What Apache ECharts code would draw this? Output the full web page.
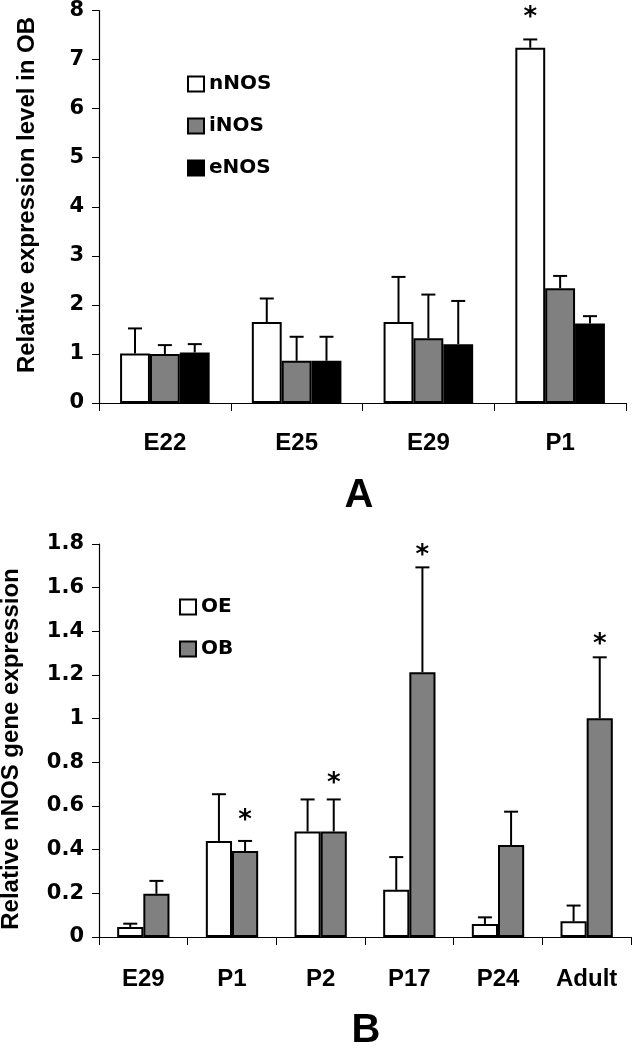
<!DOCTYPE html>
<html><head><meta charset="utf-8">
<script src="https://cdn.jsdelivr.net/npm/echarts@6/dist/echarts.min.js"></script>
<style>html,body{margin:0;padding:0;background:#fff}#c{width:632px;height:1050px}</style>
</head><body><div id="c"></div>
<script>
// ---- Panel A data ----
const categoriesA = ['E22', 'E25', 'E29', 'P1'];
const nNOS = [1.01, 1.65, 1.65, 7.24];
const nNOS_sd = [0.51, 0.48, 0.92, 0.17];
const iNOS = [1.00, 0.86, 1.32, 2.34];
const iNOS_sd = [0.18, 0.49, 0.89, 0.25];
const eNOS = [1.03, 0.86, 1.20, 1.62];
const eNOS_sd = [0.17, 0.49, 0.88, 0.15];
const starsA = [[3, 0, 7.95]]; // [category, series index, y]
const yTicksA = {min: 0, max: 8, interval: 1};

// ---- Panel B data ----
const categoriesB = ['E29', 'P1', 'P2', 'P17', 'P24', 'Adult'];
const OE = [0.046, 0.44, 0.483, 0.216, 0.06, 0.072];
const OE_sd = [0.015, 0.214, 0.147, 0.15, 0.03, 0.072];
const OB = [0.198, 0.394, 0.483, 1.213, 0.421, 1.002];
const OB_sd = [0.059, 0.046, 0.147, 0.48, 0.153, 0.279];
const starsB = [[1, 1, 0.555], [2, 1, 0.723], [3, 1, 1.765], [5, 1, 1.359]];
const yTicksB = {min: 0, max: 1.8, interval: 0.2};

const GAP_A = 0.32, GAP_B = 0.41;
const tickFont = 'DejaVu Sans';
const titleFont = 'Liberation Sans';

function offsetFor(api, idx, n, gap) {
  const band = api.size([1, 0])[0];
  const usable = band * (1 - gap);
  const w = usable / n;
  return -usable / 2 + w * (idx + 0.5);
}

function errSeries(gridIdx, vals, sds, idx, n, gap) {
  return {
    type: 'custom', xAxisIndex: gridIdx, yAxisIndex: gridIdx, z: 5,
    silent: true,
    data: vals.map((v, i) => [i, v, v + sds[i]]),
    renderItem: function (params, api) {
      const off = offsetFor(api, idx, n, gap);
      const p0 = api.coord([api.value(0), api.value(1)]);
      const p1 = api.coord([api.value(0), api.value(2)]);
      const x = p0[0] + off;
      return {
        type: 'group', children: [
          {type: 'line', shape: {x1: x, y1: p0[1], x2: x, y2: p1[1]}, style: {stroke: '#000', lineWidth: 2}},
          {type: 'line', shape: {x1: x - 7, y1: p1[1], x2: x + 7, y2: p1[1]}, style: {stroke: '#000', lineWidth: 2}}
        ]
      };
    }
  };
}

function starSeries(gridIdx, stars, n, gap) {
  return {
    type: 'custom', xAxisIndex: gridIdx, yAxisIndex: gridIdx, z: 6, silent: true,
    data: stars,
    renderItem: function (params, api) {
      const off = offsetFor(api, api.value(1), n, gap);
      const p = api.coord([api.value(0), api.value(2)]);
      return {type: 'text', x: p[0] + off, y: p[1] + 5,
        style: {text: '*', fontSize: 26, fontWeight: 'bold', fontFamily: 'DejaVu Sans', fill: '#000', align: 'center', verticalAlign: 'middle'}};
    }
  };
}

function barSeries(name, gridIdx, vals, color, gap) {
  return {
    name: name, type: 'bar', xAxisIndex: gridIdx, yAxisIndex: gridIdx,
    data: vals, barGap: '0%', barCategoryGap: (gap * 100) + '%',
    itemStyle: {color: color, borderColor: '#000', borderWidth: 2},
    emphasis: {disabled: true}
  };
}

const axisLine = {show: true, lineStyle: {color: '#000', width: 1.2}};
const legendText = {fontFamily: tickFont, fontWeight: 'bold', fontSize: 20, color: '#000'};
const catLabel = {interval: 0, fontFamily: titleFont, fontWeight: 'bold', fontSize: 24, color: '#000'};
const valLabel = {margin: 15, fontFamily: tickFont, fontWeight: 'bold', fontSize: 21, color: '#000'};

const chart = echarts.init(document.getElementById('c'), null, {renderer: 'canvas'});
chart.setOption({
  animation: false,
  backgroundColor: '#fff',
  grid: [
    {left: 99, right: 6, top: 8, height: 395},
    {left: 99, right: 1, top: 544, height: 393}
  ],
  legend: [
    {data: ['nNOS', 'iNOS', 'eNOS'], orient: 'vertical', left: 182, top: 69, icon: 'rect',
      itemWidth: 16, itemHeight: 15, itemGap: 22, textStyle: legendText},
    {data: ['OE', 'OB'], orient: 'vertical', left: 174, top: 592, icon: 'rect',
      itemWidth: 16, itemHeight: 15, itemGap: 22, textStyle: legendText}
  ],
  xAxis: [
    {type: 'category', gridIndex: 0, data: categoriesA, axisLine: axisLine,
      axisTick: {show: true, length: 8, lineStyle: {color: '#000'}},
      axisLabel: Object.assign({margin: 28}, catLabel)},
    {type: 'category', gridIndex: 1, data: categoriesB, axisLine: axisLine,
      axisTick: {show: true, length: 8, lineStyle: {color: '#000'}},
      axisLabel: Object.assign({margin: 30}, catLabel)}
  ],
  yAxis: [
    {type: 'value', gridIndex: 0, min: yTicksA.min, max: yTicksA.max, interval: yTicksA.interval,
      splitLine: {show: false}, axisLine: axisLine,
      axisTick: {show: true, length: 7, lineStyle: {color: '#000'}}, axisLabel: valLabel},
    {type: 'value', gridIndex: 1, min: yTicksB.min, max: yTicksB.max, interval: yTicksB.interval,
      splitLine: {show: false}, axisLine: axisLine,
      axisTick: {show: true, length: 7, lineStyle: {color: '#000'}}, axisLabel: valLabel}
  ],
  graphic: [
    {type: 'text', x: 27, y: 195, rotation: Math.PI / 2,
      style: {text: 'Relative expression level in OB', fontFamily: titleFont, fontWeight: 'bold', fontSize: 24, fill: '#000', align: 'center', verticalAlign: 'middle'}},
    {type: 'text', x: 11, y: 749, rotation: Math.PI / 2,
      style: {text: 'Relative nNOS gene expression', fontFamily: titleFont, fontWeight: 'bold', fontSize: 24, fill: '#000', align: 'center', verticalAlign: 'middle'}},
    {type: 'text', x: 359, y: 496,
      style: {text: 'A', fontFamily: titleFont, fontWeight: 'bold', fontSize: 40, fill: '#000', align: 'center', verticalAlign: 'middle'}},
    {type: 'text', x: 366, y: 1031,
      style: {text: 'B', fontFamily: titleFont, fontWeight: 'bold', fontSize: 40, fill: '#000', align: 'center', verticalAlign: 'middle'}}
  ],
  series: [
    barSeries('nNOS', 0, nNOS, '#ffffff', GAP_A),
    barSeries('iNOS', 0, iNOS, '#808080', GAP_A),
    barSeries('eNOS', 0, eNOS, '#000000', GAP_A),
    errSeries(0, nNOS, nNOS_sd, 0, 3, GAP_A),
    errSeries(0, iNOS, iNOS_sd, 1, 3, GAP_A),
    errSeries(0, eNOS, eNOS_sd, 2, 3, GAP_A),
    starSeries(0, starsA, 3, GAP_A),
    barSeries('OE', 1, OE, '#ffffff', GAP_B),
    barSeries('OB', 1, OB, '#808080', GAP_B),
    errSeries(1, OE, OE_sd, 0, 2, GAP_B),
    errSeries(1, OB, OB_sd, 1, 2, GAP_B),
    starSeries(1, starsB, 2, GAP_B)
  ]
});
</script></body></html>
